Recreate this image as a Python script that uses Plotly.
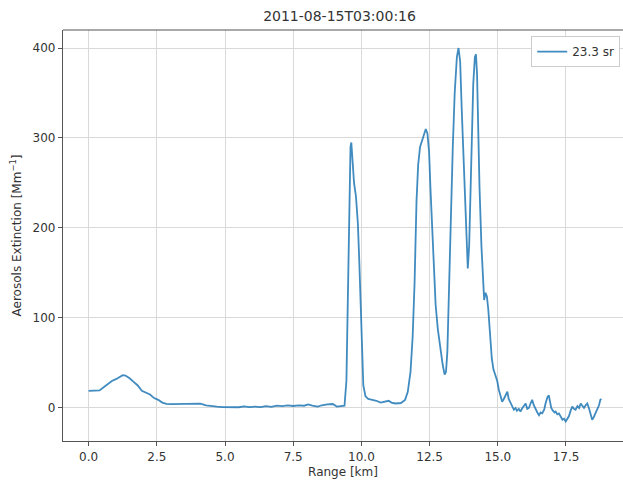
import plotly.graph_objects as go

range_km = [0.0, 0.2, 0.4, 0.55, 0.7, 0.85, 1.0, 1.15, 1.25, 1.35, 1.5, 1.65, 1.8, 1.95, 2.1, 2.25, 2.4, 2.55, 2.7, 2.85,
            3.0, 3.3, 3.6, 3.9, 4.1, 4.3, 4.5, 4.7, 4.9, 5.1, 5.3, 5.5, 5.7, 5.9, 6.1, 6.3, 6.5, 6.7, 6.9, 7.1,
            7.3, 7.5, 7.7, 7.9, 8.05, 8.2, 8.4, 8.55, 8.75, 8.95, 9.1, 9.25, 9.38,
            9.45, 9.5, 9.55, 9.6, 9.63, 9.68, 9.73, 9.8, 9.87, 9.92, 9.97, 10.02, 10.07, 10.15, 10.25, 10.4, 10.55,
            10.7, 10.85, 11.0, 11.1, 11.25, 11.45, 11.6, 11.7, 11.8, 11.88, 11.95, 12.02, 12.08, 12.15, 12.22, 12.3,
            12.36, 12.42, 12.48, 12.53, 12.6, 12.66, 12.72, 12.8, 12.9, 12.98, 13.05, 13.1, 13.15, 13.2, 13.27, 13.35,
            13.42, 13.5, 13.56, 13.62, 13.68, 13.75, 13.82, 13.87, 13.9, 13.95, 14.0, 14.05, 14.1, 14.16, 14.2, 14.24,
            14.28, 14.33, 14.4, 14.46, 14.5, 14.55, 14.6, 14.65, 14.72, 14.78, 14.84, 14.9, 14.98, 15.04, 15.1, 15.16,
            15.22, 15.3, 15.35, 15.4, 15.47, 15.53, 15.59, 15.65, 15.7, 15.77, 15.83, 15.9, 15.96, 16.02, 16.08, 16.14,
            16.2, 16.26, 16.32, 16.39, 16.45, 16.51, 16.57, 16.63, 16.7, 16.75, 16.82, 16.87, 16.92, 16.96, 17.02, 17.08,
            17.12, 17.18, 17.24, 17.3, 17.37, 17.43, 17.49, 17.55, 17.61, 17.67, 17.73, 17.79, 17.85, 17.92, 17.98, 18.04,
            18.1, 18.16, 18.22, 18.28, 18.34, 18.4, 18.46, 18.52, 18.58, 18.64, 18.71, 18.76, 18.8]

extinction = [19, 19, 19.5, 23, 27, 30, 32, 35, 36.5, 36, 33, 29, 25, 19, 17, 15, 11, 9, 6, 4.5,
              4.2, 4.5, 4.0, 4.5, 4.8, 3.0, 2.0, 1.5, 1.0, 0.8, 1.2, 0.8, 1.8, 1.0, 1.5, 1.0, 2.0, 1.2, 2.5, 2.0,
              2.8, 2.2, 2.8, 2.5, 4.0, 2.5, 1.5, 3.0, 4.0, 4.4, 1.5, 2.0, 2.5,
              30, 120, 230, 290, 295, 275, 250, 235, 205, 165, 125, 65, 25, 13, 10, 9, 8,
              6, 7, 8, 6, 5, 5.5, 9, 18, 40, 80, 140, 230, 270, 290, 297, 305,
              310, 305, 285, 245, 195, 150, 115, 88, 65, 48, 37, 40, 62, 120, 210, 290,
              350, 390, 400, 385, 330, 270, 230, 190, 155, 180, 245, 310, 360, 390, 393, 370,
              310, 245, 180, 135, 120, 128, 124, 110, 80, 55, 43, 38, 30, 20, 12, 7,
              10, 16, 18, 10, 5, 1, -2, 0, -3, -1, -4, 0, 2, 5, -1, 0,
              5, 9, 3, -2, -5, -8, -5, -6, -2, 5, 12, 14, 6, 0, -3, -5,
              -4, -7, -6, -10, -13, -12, -15, -12, -9, -3, 1.5, -1, -2, 2, 0, 5,
              2, 0, 3, 5, 0, -8, -13, -10, -6, -3, 3, 9, 10]

x_ticks = [0.0, 2.5, 5.0, 7.5, 10.0, 12.5, 15.0, 17.5]
x_tick_labels = ["0.0", "2.5", "5.0", "7.5", "10.0", "12.5", "15.0", "17.5"]
y_ticks = [0, 100, 200, 300, 400]
y_tick_labels = ["0", "100", "200", "300", "400"]

series_name = "23.3 sr"
title_text = "2011-08-15T03:00:16"

font_family = "DejaVu Sans"
text_color = "#333333"
grid_color = "#d9d9d9"
axis_color = "#555555"

fig = go.Figure()
fig.add_trace(go.Scatter(
    x=range_km, y=extinction, mode="lines", name=series_name,
    line=dict(color="rgba(31,119,180,0.85)", width=1.8),
    showlegend=True,
))

fig.update_layout(
    width=623, height=480,
    margin=dict(l=63, r=0, t=30, b=39),
    paper_bgcolor="white", plot_bgcolor="white",
    font=dict(family=font_family, size=12, color=text_color),
    title=dict(text=title_text, x=0.545, xanchor="center", y=1 - 16 / 480, yanchor="middle",
               yref="container", font=dict(size=14, color=text_color)),
    showlegend=True,
    legend=dict(x=0.995, y=0.985, xanchor="right", yanchor="top",
                bgcolor="white", bordercolor="#cccccc", borderwidth=1,
                font=dict(size=12, color=text_color)),
    xaxis=dict(
        range=[-0.94, 19.59], tickvals=x_ticks, ticktext=x_tick_labels,
        showgrid=True, gridcolor=grid_color, gridwidth=1, zeroline=False,
        showline=True, linecolor=axis_color, linewidth=1.2,
        ticks="outside", ticklen=4, tickcolor=axis_color,
        title=dict(text="Range [km]", standoff=5, font=dict(size=12)),
    ),
    yaxis=dict(
        range=[-36.7, 420], tickvals=y_ticks, ticktext=y_tick_labels,
        showgrid=True, gridcolor=grid_color, gridwidth=1, zeroline=False,
        showline=True, linecolor=axis_color, linewidth=1.2,
        ticks="outside", ticklen=4, tickcolor=axis_color,
        title=dict(text="Aerosols Extinction [Mm<sup>−1</sup>]", standoff=8, font=dict(size=12)),
    ),
    shapes=[dict(type="line", xref="paper", yref="paper", x0=0, x1=1, y0=1, y1=1,
                 line=dict(color=axis_color, width=1.2))],
)

fig.write_html("out.html")
